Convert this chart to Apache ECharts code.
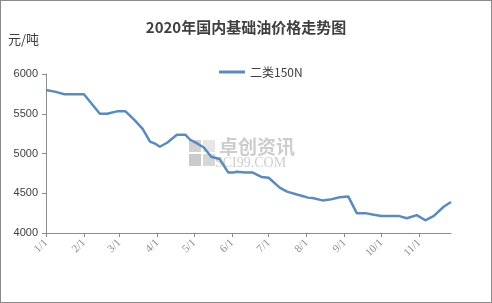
<!DOCTYPE html>
<html><head><meta charset="utf-8">
<script src="https://cdn.jsdelivr.net/npm/echarts@6/dist/echarts.min.js"></script>
<style>html,body{margin:0;padding:0;background:#fff}#c{width:490px;height:301px;border:1px solid #8a8a8a}</style>
</head><body><div id="c"></div>
<script>
const titleText = '2020年国内基础油价格走势图';
const unitText = '元/吨';
const seriesName = '二类150N';
const dates = ['2020-01-01','2020-01-09','2020-01-16','2020-01-23','2020-02-01','2020-02-14','2020-02-20','2020-02-28','2020-03-06','2020-03-13','2020-03-20','2020-03-26','2020-03-30','2020-04-03','2020-04-09','2020-04-17','2020-04-24','2020-04-28','2020-05-02','2020-05-09','2020-05-15','2020-05-22','2020-05-29','2020-06-02','2020-06-05','2020-06-12','2020-06-18','2020-06-25','2020-07-01','2020-07-10','2020-07-16','2020-07-24','2020-07-30','2020-08-02','2020-08-06','2020-08-14','2020-08-20','2020-08-28','2020-09-04','2020-09-11','2020-09-18','2020-09-25','2020-10-01','2020-10-15','2020-10-22','2020-10-30','2020-11-06','2020-11-13','2020-11-21','2020-11-27'];
const values = [5800,5775,5745,5745,5745,5500,5500,5530,5530,5425,5310,5150,5125,5085,5135,5235,5235,5170,5140,5075,4960,4930,4760,4760,4770,4760,4760,4705,4695,4570,4520,4485,4460,4445,4440,4410,4420,4450,4460,4250,4250,4230,4215,4215,4185,4225,4160,4215,4330,4390];
const yTicks = {min:4000, max:6000, step:500};

const chart = echarts.init(document.getElementById('c'));
const DAY = 86400000;
chart.setOption({
  animation:false,
  backgroundColor:'#fff',
  title:{text:titleText, left:'center', top:14, textStyle:{fontFamily:'Noto Sans CJK SC', fontSize:15, fontWeight:'bold', color:'#404040'}},
  graphic:[
    {type:'text', left:7, top:32, style:{text:unitText, fontFamily:'Noto Sans CJK SC', fontSize:13, fill:'#404040'}},
    {type:'group', left:188, top:136, children:[
      {type:'rect', shape:{x:0,y:0,width:12,height:12}, style:{fill:'#d2d2d2'}},
      {type:'rect', shape:{x:14,y:0,width:12,height:12}, style:{fill:'#e6e6e6'}},
      {type:'rect', shape:{x:0,y:14,width:12,height:12}, style:{fill:'#cacaca'}},
      {type:'rect', shape:{x:14,y:14,width:12,height:12}, style:{fill:'#d6d6d6'}},
      {type:'text', x:30, y:-3, style:{text:'卓创资讯', fontFamily:'Noto Sans CJK SC', fontSize:19, fontWeight:'bold', fill:'#cdcdcd'}},
      {type:'text', x:26, y:16, style:{text:'SCI99.COM', fontFamily:'Liberation Serif', fontSize:14, fill:'#cdcdcd'}}
    ]}
  ],
  legend:{top:60, left:213, itemWidth:26, itemHeight:3, itemGap:4, icon:'rect',
    textStyle:{fontFamily:'Noto Sans CJK SC', fontSize:12, color:'#404040'}, data:[seriesName]},
  grid:{left:45, right:40, top:73, bottom:69, containLabel:false},
  xAxis:{type:'time', min:dates[0], max:dates[dates.length-1],
    minInterval:28*DAY, maxInterval:31*DAY,
    axisLine:{lineStyle:{color:'#8c8c8c', width:1}},
    axisTick:{show:true, length:4, lineStyle:{color:'#8c8c8c'}},
    splitLine:{show:false},
    axisLabel:{rotate:45, color:'#8c8c8c', fontFamily:'Liberation Serif', fontSize:11, margin:8,
      formatter:function(v){const d=new Date(v);return (d.getMonth()+1)+'/'+d.getDate();}}
  },
  yAxis:{type:'value', min:yTicks.min, max:yTicks.max, interval:yTicks.step,
    axisLine:{show:true, lineStyle:{color:'#8c8c8c'}},
    axisTick:{show:true, length:4, lineStyle:{color:'#8c8c8c'}},
    splitLine:{show:false},
    axisLabel:{color:'#404040', fontFamily:'Liberation Sans', fontSize:11, margin:8,
      formatter:function(v){return String(v);}}
  },
  series:[{name:seriesName, type:'line', symbol:'none', data:dates.map((d,i)=>[d,values[i]]),
    lineStyle:{color:'#5b8bbb', width:2.5}, itemStyle:{color:'#5b8bbb'}}]
});
</script></body></html>
